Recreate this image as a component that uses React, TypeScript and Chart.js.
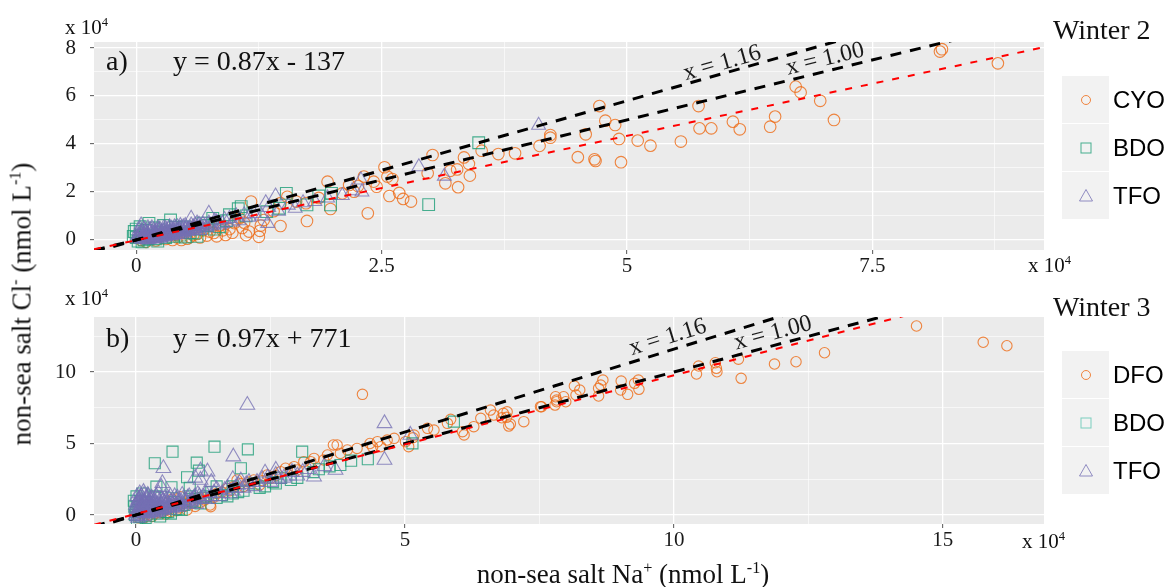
import React, { useEffect, useRef } from 'react';
import { Chart, registerables } from 'chart.js';

Chart.register(...registerables);

// ---------------- Data (values in units of 10^4 nmol/L) ----------------
// Panel a) Winter 2
const cyoWinter2: [number, number][] = [
  [0.05, 0.0], [0.1, -0.08], [0.14, 0.1], [0.2, -0.02], [0.24, 0.15], [0.3, 0.04], [0.37, 0.0], [0.4, 0.22],
  [0.46, 0.0], [0.5, 0.3], [0.55, 0.12], [0.59, 0.54], [0.62, 0.25], [0.68, 0.4], [0.72, 0.18], [0.79, 0.29],
  [0.85, 0.6], [0.91, 0.21], [0.95, 0.45], [1.0, 0.7], [1.05, 0.9], [1.1, 0.72], [1.15, 0.35], [1.17, 1.6],
  [1.25, 0.13], [1.26, 0.38], [1.27, 0.6], [1.3, 0.83], [1.4, 1.2], [1.47, 0.58], [1.47, 1.53], [1.54, 1.8],
  [1.63, 1.6], [1.73, 1.53], [1.74, 0.79], [1.86, 1.75], [1.95, 2.43], [1.98, 1.29], [2.1, 1.94], [2.17, 2.29],
  [2.22, 2.01], [2.26, 2.25], [2.32, 2.64], [2.36, 1.11], [2.42, 2.43], [2.45, 2.22], [2.53, 3.03], [2.56, 2.64],
  [2.58, 1.83], [2.61, 2.54], [2.68, 1.96], [2.72, 1.71], [2.8, 1.6], [2.97, 2.78], [3.02, 3.54], [3.15, 2.36],
  [3.2, 2.88], [3.27, 2.94], [3.28, 2.2], [3.34, 3.44], [3.39, 3.17], [3.4, 2.68], [3.52, 3.72], [3.69, 3.58],
  [3.86, 3.61], [4.11, 3.92], [4.22, 4.37], [4.22, 4.26], [4.5, 3.45], [4.58, 4.4], [4.67, 3.36], [4.68, 3.29],
  [4.72, 5.58], [4.78, 4.97], [4.88, 4.79], [4.92, 4.21], [4.94, 3.24], [5.11, 4.14], [5.24, 3.93], [5.55, 4.1],
  [5.73, 5.58], [5.74, 4.65], [5.86, 4.65], [6.08, 4.93], [6.15, 4.61], [6.46, 4.72], [6.51, 5.14], [6.72, 6.39],
  [6.77, 6.15], [6.97, 5.8], [7.11, 5.0], [8.19, 7.85], [8.21, 7.95], [8.78, 7.36],
  [0.3, 0.25], [0.42, 0.1], [0.52, 0.05], [0.58, 0.2], [0.65, 0.1], [0.75, 0.35], [0.82, 0.15], [0.88, 0.4],
  [0.98, 0.3], [1.08, 0.5], [1.12, 0.2],
];
const bdoWinter2: [number, number][] = [
  [-0.02, 0.35], [0.0, 0.1], [0.02, -0.05], [0.05, 0.2], [0.08, 0.0], [0.1, 0.4], [0.13, 0.69], [0.15, 0.15],
  [0.2, 0.05], [0.25, 0.3], [0.3, 0.1], [0.35, 0.83], [0.4, 0.53], [0.45, 0.2], [0.49, 0.54], [0.55, 0.3],
  [0.59, 0.29], [0.65, 0.45], [0.72, 0.6], [0.78, 0.9], [0.85, 0.55], [0.92, 0.8], [1.04, 1.3], [1.07, 1.39],
  [1.12, 1.0], [1.33, 1.18], [1.46, 1.32], [1.53, 1.94], [1.74, 1.46], [1.86, 1.83], [1.98, 1.46], [1.99, 1.94],
  [2.98, 1.47], [3.49, 4.05],
  [-0.03, 0.15], [0.0, 0.45], [0.04, 0.55], [0.06, -0.08], [0.12, 0.05], [0.18, 0.5], [0.22, -0.05], [0.28, 0.6],
  [0.38, 0.15], [0.5, 0.12], [0.62, 0.15], [0.68, 0.7], [0.8, 0.45], [0.95, 1.05],
];
const tfoWinter2: [number, number][] = [
  [0.02, 0.05], [0.03, 0.15], [0.04, 0.3], [0.05, 0.62], [0.06, 0.02], [0.07, 0.2], [0.08, 0.45], [0.09, 0.1],
  [0.1, 0.32], [0.11, 0.0], [0.12, 0.18], [0.13, 0.4], [0.14, 0.08], [0.15, 0.25], [0.16, 0.5], [0.17, 0.12],
  [0.18, 0.3], [0.19, 0.05], [0.2, 0.22], [0.21, 0.38], [0.22, 0.15], [0.23, 0.28], [0.24, 0.45], [0.25, 0.1],
  [0.26, 0.33], [0.27, 0.2], [0.28, 0.5], [0.29, 0.27], [0.3, 0.14], [0.31, 0.4], [0.32, 0.3], [0.33, 0.22],
  [0.34, 0.55], [0.35, 0.35], [0.36, 0.25], [0.38, 0.42], [0.39, 0.3], [0.4, 0.5], [0.42, 0.36], [0.44, 0.45],
  [0.46, 0.3], [0.48, 0.55], [0.5, 0.42], [0.52, 0.35], [0.55, 0.5], [0.56, 0.9], [0.58, 0.45], [0.6, 0.62],
  [0.63, 0.5], [0.66, 0.58], [0.7, 0.55], [0.74, 1.11], [0.74, 0.7], [0.78, 0.62], [0.82, 0.75], [0.88, 0.68],
  [0.95, 0.9], [1.05, 0.8], [1.1, 1.05], [1.2, 1.1], [1.28, 1.0], [1.32, 1.55], [1.34, 0.69], [1.35, 1.35],
  [1.42, 1.83], [1.45, 1.2], [1.55, 1.45], [1.62, 1.32], [1.7, 1.55], [1.82, 1.6], [1.95, 1.75], [2.1, 1.85],
  [2.2, 2.05], [2.29, 2.5], [2.3, 2.0], [2.88, 3.05], [3.14, 2.66], [4.1, 4.78],
  [0.01, 0.1], [0.03, 0.4], [0.05, 0.25], [0.07, 0.05], [0.09, 0.35], [0.11, 0.2], [0.13, 0.02], [0.15, 0.42],
  [0.17, 0.28], [0.19, 0.18], [0.21, 0.08], [0.23, 0.4], [0.25, 0.2], [0.27, 0.35], [0.29, 0.12], [0.31, 0.25],
  [0.33, 0.45], [0.35, 0.18], [0.37, 0.32], [0.39, 0.55], [0.41, 0.22], [0.43, 0.4], [0.45, 0.6], [0.47, 0.35],
  [0.49, 0.25], [0.51, 0.5], [0.53, 0.45], [0.57, 0.38], [0.6, 0.48], [0.62, 0.7], [0.65, 0.4], [0.68, 0.65],
  [0.72, 0.5], [0.76, 0.58], [0.8, 0.8], [0.85, 0.62], [0.9, 0.85], [0.98, 0.75], [1.02, 1.0], [1.15, 0.95],
  [0.02, 0.22], [0.04, 0.48], [0.06, 0.35], [0.08, 0.25], [0.1, 0.15], [0.12, 0.5], [0.14, 0.33], [0.16, 0.05],
  [0.18, 0.42], [0.2, 0.32], [0.22, 0.5], [0.24, 0.05], [0.26, 0.15], [0.28, 0.38], [0.3, 0.48], [0.32, 0.18],
  [0.34, 0.3], [0.36, 0.48], [0.38, 0.2], [0.4, 0.35], [0.42, 0.55], [0.44, 0.25], [0.46, 0.5], [0.48, 0.3],
  [0.5, 0.6], [0.54, 0.38], [0.56, 0.62], [0.58, 0.55], [0.61, 0.4], [0.64, 0.65],
];
const slopeA = 0.87;
const interceptA = -137 / 1e4;

// Panel b) Winter 3
const dfoWinter3: [number, number][] = [
  [0.05, -0.2], [0.1, 0.1], [0.2, 0.3], [0.3, -0.1], [0.43, 0.58], [0.5, 0.2], [0.6, 0.4], [0.67, 1.1],
  [0.75, 0.3], [0.83, 1.28], [0.89, 0.82], [0.95, 0.35], [1.05, 0.8], [1.15, 1.2], [1.28, 1.05], [1.38, 0.7],
  [1.39, 0.58], [1.5, 1.5], [1.7, 1.86], [1.82, 1.98], [1.88, 2.45], [2.0, 2.0], [2.19, 2.45], [2.3, 2.1],
  [2.44, 2.8], [2.5, 2.56], [2.69, 3.03], [2.78, 3.27], [2.94, 3.38], [3.0, 3.15], [3.12, 3.73], [3.25, 3.73],
  [3.31, 3.96], [3.49, 3.85], [3.56, 4.2], [3.67, 4.9], [3.74, 4.9], [3.8, 4.31], [3.93, 4.55], [4.11, 4.66],
  [4.21, 8.44], [4.35, 5.0], [4.4, 4.76], [4.49, 5.13], [4.55, 4.78], [4.67, 5.24], [4.8, 5.36], [5.01, 5.13],
  [5.07, 4.78], [5.15, 5.4], [5.17, 5.59], [5.42, 6.06], [5.54, 5.94], [5.79, 6.41], [5.85, 6.69], [6.07, 5.83],
  [6.1, 5.6], [6.28, 6.18], [6.41, 6.76], [6.59, 7.34], [6.65, 6.99], [6.8, 6.8], [6.83, 7.11], [6.89, 6.83],
  [6.9, 7.22], [6.93, 6.22], [6.96, 6.36], [7.21, 6.53], [7.52, 7.58], [7.54, 7.57], [7.79, 7.69], [7.8, 8.27],
  [7.82, 7.92], [7.82, 8.04], [7.95, 8.27], [7.99, 7.92], [8.15, 9.02], [8.18, 8.39], [8.25, 8.74], [8.6, 8.86],
  [8.6, 8.32], [8.64, 9.09], [8.68, 9.44], [9.01, 8.74], [9.02, 9.37], [9.14, 8.44], [9.27, 9.21], [9.34, 9.44],
  [9.35, 8.79], [10.42, 9.86], [10.46, 10.42], [10.77, 10.65], [10.79, 10.26], [10.8, 10.02], [11.2, 10.9],
  [11.25, 9.56], [11.87, 10.56], [12.27, 10.72], [12.8, 11.35], [14.51, 13.22], [15.75, 12.08], [16.19, 11.84],
  [0.15, -0.2], [0.25, 0.0], [0.35, 0.1], [0.45, 0.15], [0.55, 0.05], [0.65, 0.25], [0.7, 0.7], [0.8, 0.5],
  [0.9, 0.6], [1.0, 0.9], [1.1, 0.6], [1.2, 0.9], [1.3, 1.2], [1.45, 1.25], [1.6, 1.6], [1.75, 1.7],
  [1.95, 2.2], [2.1, 2.3], [2.35, 2.4], [2.6, 2.75],
];
const bdoWinter3: [number, number][] = [
  [0.0, 0.2], [0.02, -0.3], [0.05, 0.6], [0.08, 1.0], [0.1, -0.1], [0.15, 0.4], [0.2, 0.9], [0.25, -0.05],
  [0.3, 0.3], [0.35, 1.3], [0.35, 3.62], [0.38, 1.98], [0.4, 0.1], [0.5, 0.5], [0.6, 0.2], [0.66, 1.94],
  [0.68, 4.43], [0.7, 0.9], [0.8, 0.4], [0.9, 0.7], [0.95, 2.64], [1.0, 1.3], [1.0, 1.9], [1.05, 1.0],
  [1.1, 0.9], [1.13, 3.66], [1.17, 3.1], [1.25, 1.2], [1.3, 1.3], [1.4, 1.6], [1.46, 4.78], [1.5, 2.0],
  [1.6, 1.4], [1.8, 1.5], [1.8, 2.0], [1.95, 3.27], [2.0, 1.7], [2.08, 4.59], [2.2, 2.2], [2.4, 2.0],
  [2.55, 2.3], [2.7, 2.6], [2.88, 2.45], [3.0, 2.6], [3.09, 4.43], [3.3, 3.0], [3.6, 3.4], [4.0, 3.8],
  [4.31, 3.9], [5.14, 5.01], [5.91, 6.53],
  [-0.03, 0.6], [-0.04, 1.0], [-0.02, 0.0], [0.01, 1.3], [0.03, 0.35], [0.06, -0.15], [0.12, 1.5], [0.18, -0.2],
  [0.22, 0.6], [0.45, -0.1], [0.55, 0.2], [0.65, 0.1], [0.75, 0.4], [0.85, 0.35], [1.2, 0.8], [1.5, 1.2],
  [1.7, 1.3], [1.9, 1.6], [2.3, 1.9], [2.6, 2.2], [3.4, 3.2], [3.8, 3.5],
];
const tfoWinter3: [number, number][] = [
  [0.0, 0.0], [0.02, 0.3], [0.03, 0.8], [0.04, -0.2], [0.05, 1.1], [0.06, 0.5], [0.08, 0.15], [0.1, 1.3],
  [0.12, 0.6], [0.14, -0.1], [0.15, 0.9], [0.17, 0.35], [0.2, 1.2], [0.22, 0.1], [0.25, 0.7], [0.28, 1.0],
  [0.3, 0.3], [0.33, 0.5], [0.36, 0.9], [0.4, 0.2], [0.42, 1.5], [0.45, 0.6], [0.47, 1.95], [0.48, 0.4],
  [0.49, 2.22], [0.5, 1.0], [0.51, 3.27], [0.55, 0.7], [0.6, 0.5], [0.65, 0.9], [0.7, 0.6], [0.75, 1.1],
  [0.8, 0.75], [0.9, 1.0], [1.0, 0.85], [1.1, 1.3], [1.1, 2.6], [1.2, 1.1], [1.2, 3.1], [1.2, 2.45],
  [1.3, 1.5], [1.33, 3.03], [1.4, 1.3], [1.4, 2.3], [1.5, 1.8], [1.6, 1.5], [1.7, 1.9], [1.8, 1.7],
  [1.8, 2.5], [1.81, 4.08], [1.9, 2.1], [1.95, 2.4], [2.0, 1.9], [2.07, 7.69], [2.1, 2.3], [2.2, 2.0],
  [2.35, 2.5], [2.4, 2.95], [2.5, 2.3], [2.6, 2.8], [2.6, 3.15], [2.75, 2.6], [2.9, 3.0], [3.0, 2.75],
  [3.2, 3.2], [3.31, 2.68], [3.5, 3.4], [3.71, 3.15], [4.62, 6.41], [4.62, 3.85], [5.1, 5.6],
  [0.01, 0.5], [0.02, 1.3], [0.03, -0.1], [0.05, 0.3], [0.06, 0.9], [0.07, 1.5], [0.09, 0.6], [0.1, 0.0],
  [0.11, 1.0], [0.13, 0.3], [0.15, 1.4], [0.16, 0.7], [0.18, 0.1], [0.19, 1.0], [0.21, 0.5], [0.23, 1.3],
  [0.24, 0.2], [0.26, 0.85], [0.27, 0.4], [0.29, 1.2], [0.31, 0.6], [0.32, 0.1], [0.34, 1.0], [0.37, 0.45],
  [0.38, 1.3], [0.41, 0.75], [0.44, 0.3], [0.46, 1.1], [0.52, 0.5], [0.54, 1.2], [0.58, 0.8], [0.62, 1.1],
  [0.63, 0.35], [0.68, 0.75], [0.72, 1.3], [0.78, 0.55], [0.82, 1.0], [0.86, 1.4], [0.92, 0.8], [0.96, 1.2],
  [1.05, 1.05], [1.12, 0.75], [1.15, 1.45], [1.25, 1.3], [1.35, 1.1], [1.45, 1.55], [1.55, 1.3], [1.65, 1.75],
  [1.75, 1.5], [1.85, 1.9], [2.05, 2.15], [2.25, 2.3], [2.45, 2.6], [2.65, 2.5], [2.85, 2.75], [3.1, 3.0],
  [0.0, 0.7], [0.02, 0.1], [0.04, 1.0], [0.06, 0.2], [0.08, 1.2], [0.1, 0.45], [0.12, 0.9], [0.14, 1.6],
  [0.16, 0.2], [0.18, 0.8], [0.2, 0.55], [0.22, 1.4], [0.24, 0.9], [0.26, 0.3], [0.28, 0.6], [0.3, 1.1],
  [0.33, 0.8], [0.35, 0.25], [0.38, 0.65], [0.4, 1.1], [0.43, 0.5], [0.46, 0.85], [0.5, 0.35], [0.53, 0.9],
  [0.56, 1.0], [0.6, 0.7], [0.64, 1.3], [0.67, 0.5], [0.7, 0.95], [0.74, 0.7], [0.77, 1.2], [0.8, 0.9],
  [0.84, 0.65], [0.88, 1.15], [0.94, 1.0], [0.99, 1.3], [1.02, 0.95], [1.08, 1.2], [1.18, 1.3], [1.28, 1.15],
];
const slopeB = 0.97;
const interceptB = 771 / 1e4;

// Reference molar ratio lines
const ratioSlopes = [1.16, 1.0];
const ratioLabels = ['x = 1.16', 'x = 1.00'];

// Axis ranges and ticks
const xRangeA = [-0.43, 9.25];
const yRangeA = [-0.42, 8.25];
const xMajorA = [0, 2.5, 5, 7.5];
const xMinorA = [1.25, 3.75, 6.25, 8.75];
const yMajorA = [0, 2, 4, 6, 8];
const yMinorA = [1, 3, 5, 7];
const labelXA = [6.0, 7.05];

const xRangeB = [-0.78, 16.88];
const yRangeB = [-0.63, 13.85];
const xMajorB = [0, 5, 10, 15];
const xMinorB = [2.5, 7.5, 12.5];
const yMajorB = [0, 5, 10];
const yMinorB = [2.5, 7.5, 12.5];
const labelXB = [9.96, 11.9];

// ---------------- Styling ----------------
const SERIF = "'Liberation Serif', 'Times New Roman', serif";
const SANS = "'Liberation Sans', Arial, sans-serif";
const ORANGE = 'rgba(238,108,24,0.82)';
const TEAL = 'rgba(27,158,119,0.8)';
const PURPLE = 'rgba(117,112,179,0.78)';

const bgPlugin = {
  id: 'panelBg',
  beforeDraw(chart: any) {
    const { ctx, chartArea: a } = chart;
    ctx.save();
    ctx.fillStyle = '#EBEBEB';
    ctx.fillRect(a.left, a.top, a.right - a.left, a.bottom - a.top);
    ctx.restore();
  },
};

const ratioLabelPlugin = {
  id: 'ratioLabels',
  afterDatasetsDraw(chart: any, _args: any, opts: any) {
    const { ctx } = chart;
    const xs = chart.scales.x;
    const ys = chart.scales.y;
    (opts.items || []).forEach((it: any) => {
      const px = xs.getPixelForValue(it.x);
      const py = ys.getPixelForValue(it.slope * it.x);
      const px2 = xs.getPixelForValue(it.x + 1);
      const py2 = ys.getPixelForValue(it.slope * (it.x + 1));
      const ang = Math.atan2(py2 - py, px2 - px);
      ctx.save();
      ctx.translate(px, py);
      ctx.rotate(ang);
      ctx.font = `24px ${SERIF}`;
      ctx.fillStyle = '#1a1a1a';
      ctx.textAlign = 'center';
      ctx.textBaseline = 'middle';
      ctx.fillText(it.text, 0, -it.offset);
      ctx.restore();
    });
  },
};

function makeAxis(range: number[], majors: number[], minors: number[], isY: boolean) {
  const all = [...majors, ...minors].sort((a, b) => a - b);
  return {
    type: 'linear',
    min: range[0],
    max: range[1],
    afterBuildTicks: (s: any) => {
      s.ticks = all.map((v) => ({ value: v }));
    },
    afterFit: (s: any) => {
      if (isY) s.width = 60;
      else s.height = 35;
    },
    border: { display: false },
    grid: {
      color: '#FFFFFF',
      lineWidth: (c: any) => (c.tick && majors.includes(c.tick.value) ? 1.3 : 0.6),
      tickColor: (c: any) => (c.tick && majors.includes(c.tick.value) ? '#555555' : 'rgba(0,0,0,0)'),
      tickWidth: 1,
      tickLength: 4,
      drawTicks: true,
    },
    ticks: {
      autoSkip: false,
      maxRotation: 0,
      minRotation: 0,
      padding: isY ? 14 : 0,
      color: '#1a1a1a',
      font: { family: SERIF, size: 21 },
      callback: (v: any) => (majors.includes(v) ? String(v) : ''),
    },
  };
}

interface PanelProps {
  top: number;
  height: number;
  padding: { left: number; right: number; top: number; bottom: number };
  series: { label: string; data: [number, number][]; style: string; color: string; radius: number }[];
  slope: number;
  intercept: number;
  xRange: number[];
  yRange: number[];
  xMajor: number[];
  xMinor: number[];
  yMajor: number[];
  yMinor: number[];
  labelX: number[];
  labelOffset: number[];
}

function Panel(p: PanelProps) {
  const ref = useRef<HTMLCanvasElement | null>(null);
  useEffect(() => {
    if (!ref.current) return;
    const x0 = p.xRange[0];
    const x1 = p.xRange[1];
    const lineData = (m: number, b: number) => [
      { x: x0, y: m * x0 + b },
      { x: x1, y: m * x1 + b },
    ];
    const pointSets = p.series.map((s, i) => ({
      type: 'scatter',
      label: s.label,
      data: s.data.map(([x, y]) => ({ x, y })),
      pointStyle: s.style,
      pointRadius: s.radius,
      pointBorderWidth: 1.1,
      pointBackgroundColor: 'rgba(0,0,0,0)',
      pointBorderColor: s.color,
      borderColor: s.color,
      backgroundColor: 'rgba(0,0,0,0)',
      clip: 0,
      order: 10 - i,
    }));
    const lineSets = [
      ...ratioSlopes.map((m) => ({
        type: 'line',
        label: 'ratio ' + m,
        data: lineData(m, 0),
        borderColor: '#000000',
        borderWidth: 3,
        borderDash: [11, 9],
        pointRadius: 0,
        fill: false,
        clip: 0,
        order: 1,
      })),
      {
        type: 'line',
        label: 'fit',
        data: lineData(p.slope, p.intercept),
        borderColor: '#FF0000',
        borderWidth: 2,
        borderDash: [7, 9],
        pointRadius: 0,
        fill: false,
        clip: 0,
        order: 0,
      },
    ];
    const chart = new Chart(ref.current, {
      type: 'scatter',
      data: { datasets: [...pointSets, ...lineSets] as any },
      options: {
        animation: false,
        responsive: false,
        devicePixelRatio: 1,
        layout: { padding: p.padding, autoPadding: false },
        plugins: {
          legend: { display: false },
          tooltip: { enabled: false },
          ratioLabels: {
            items: ratioSlopes.map((m, i) => ({
              slope: m,
              x: p.labelX[i],
              text: ratioLabels[i],
              offset: p.labelOffset[i],
            })),
          },
        } as any,
        scales: {
          x: makeAxis(p.xRange, p.xMajor, p.xMinor, false) as any,
          y: makeAxis(p.yRange, p.yMajor, p.yMinor, true) as any,
        },
      },
      plugins: [bgPlugin, ratioLabelPlugin],
    });
    return () => chart.destroy();
  }, []);
  return (
    <canvas
      ref={ref}
      width={1164}
      height={p.height}
      style={{ position: 'absolute', left: 0, top: p.top, width: 1164, height: p.height }}
    />
  );
}

function Txt(props: { x: number; y: number; size: number; font?: string; children: any; anchor?: 'left' | 'center' }) {
  const center = props.anchor === 'center';
  return (
    <div
      style={{
        position: 'absolute',
        left: props.x,
        top: props.y,
        transform: center ? 'translate(-50%, -50%)' : 'translate(0, -50%)',
        fontFamily: props.font || SERIF,
        fontSize: props.size,
        lineHeight: 1,
        whiteSpace: 'nowrap',
        color: '#111',
      }}
    >
      {props.children}
    </div>
  );
}

const supStyle: React.CSSProperties = { fontSize: '0.6em', verticalAlign: 'super', lineHeight: 0 };

function Marker({ kind, color }: { kind: string; color: string }) {
  return (
    <svg width={20} height={20} viewBox="0 0 20 20">
      {kind === 'circle' && <circle cx={10} cy={10} r={4.5} fill="none" stroke={color} strokeWidth={1} />}
      {kind === 'rect' && <rect x={5} y={5} width={10} height={10} fill="none" stroke={color} strokeWidth={1} />}
      {kind === 'triangle' && <polygon points="10,3.5 16.5,15 3.5,15" fill="none" stroke={color} strokeWidth={1} />}
    </svg>
  );
}

function Legend({ top, items }: { top: number; items: { label: string; kind: string; color: string }[] }) {
  return (
    <div style={{ position: 'absolute', left: 1062, top, width: 110 }}>
      {items.map((it) => (
        <div key={it.label} style={{ display: 'flex', alignItems: 'center', height: 48 }}>
          <div
            style={{
              width: 47,
              height: 47,
              marginBottom: 1,
              background: '#F2F2F2',
              display: 'flex',
              alignItems: 'center',
              justifyContent: 'center',
            }}
          >
            <Marker kind={it.kind} color={it.color} />
          </div>
          <span style={{ fontFamily: SANS, fontSize: 24, marginLeft: 4, color: '#000' }}>{it.label}</span>
        </div>
      ))}
    </div>
  );
}

export default function App() {
  const tenPow = (
    <>
      x 10<span style={supStyle}>4</span>
    </>
  );
  return (
    <div
      style={{
        position: 'absolute',
        left: 0,
        top: 0,
        width: 1164,
        height: 587,
        background: '#FFFFFF',
        overflow: 'hidden',
      }}
    >
      <Panel
        top={0}
        height={290}
        padding={{ left: 34, right: 120, top: 42, bottom: 5 }}
        series={[
          { label: 'CYO', data: cyoWinter2, style: 'circle', color: ORANGE, radius: 5.8 },
          { label: 'BDO', data: bdoWinter2, style: 'rect', color: TEAL, radius: 8.3 },
          { label: 'TFO', data: tfoWinter2, style: 'triangle', color: PURPLE, radius: 8 },
        ]}
        slope={slopeA}
        intercept={interceptA}
        xRange={xRangeA}
        yRange={yRangeA}
        xMajor={xMajorA}
        xMinor={xMinorA}
        yMajor={yMajorA}
        yMinor={yMinorA}
        labelX={labelXA}
        labelOffset={[10, 12]}
      />
      <Panel
        top={290}
        height={297}
        padding={{ left: 34, right: 120, top: 27, bottom: 28 }}
        series={[
          { label: 'DFO', data: dfoWinter3, style: 'circle', color: ORANGE, radius: 5.2 },
          { label: 'BDO', data: bdoWinter3, style: 'rect', color: TEAL, radius: 7.8 },
          { label: 'TFO', data: tfoWinter3, style: 'triangle', color: PURPLE, radius: 8.5 },
        ]}
        slope={slopeB}
        intercept={interceptB}
        xRange={xRangeB}
        yRange={yRangeB}
        xMajor={xMajorB}
        xMinor={xMinorB}
        yMajor={yMajorB}
        yMinor={yMinorB}
        labelX={labelXB}
        labelOffset={[13, 12]}
      />

      <Txt x={65} y={27} size={21}>{tenPow}</Txt>
      <Txt x={1028} y={265} size={21}>{tenPow}</Txt>
      <Txt x={65} y={298} size={21}>{tenPow}</Txt>
      <Txt x={1022} y={541} size={21}>{tenPow}</Txt>

      <Txt x={106} y={61} size={28}>a)</Txt>
      <Txt x={173} y={61} size={28}>y = 0.87x - 137</Txt>
      <Txt x={106} y={338} size={28}>b)</Txt>
      <Txt x={173} y={338} size={28}>y = 0.97x + 771</Txt>

      <Txt x={1053} y={30} size={28}>Winter 2</Txt>
      <Txt x={1053} y={307} size={28}>Winter 3</Txt>

      <Legend
        top={76}
        items={[
          { label: 'CYO', kind: 'circle', color: ORANGE },
          { label: 'BDO', kind: 'rect', color: TEAL },
          { label: 'TFO', kind: 'triangle', color: PURPLE },
        ]}
      />
      <Legend
        top={351}
        items={[
          { label: 'DFO', kind: 'circle', color: ORANGE },
          { label: 'BDO', kind: 'rect', color: 'rgba(27,178,150,0.55)' },
          { label: 'TFO', kind: 'triangle', color: PURPLE },
        ]}
      />

      <Txt x={623} y={574} size={27} anchor="center">
        non-sea salt Na<span style={supStyle}>+</span> (nmol L<span style={supStyle}>-1</span>)
      </Txt>
      <div
        style={{
          position: 'absolute',
          left: 22,
          top: 304,
          transform: 'translate(-50%, -50%) rotate(-90deg)',
          fontFamily: SERIF,
          fontSize: 27,
          lineHeight: 1,
          whiteSpace: 'nowrap',
          color: '#111',
        }}
      >
        non-sea salt Cl<span style={supStyle}>-</span> (nmol L<span style={supStyle}>-1</span>)
      </div>
    </div>
  );
}
